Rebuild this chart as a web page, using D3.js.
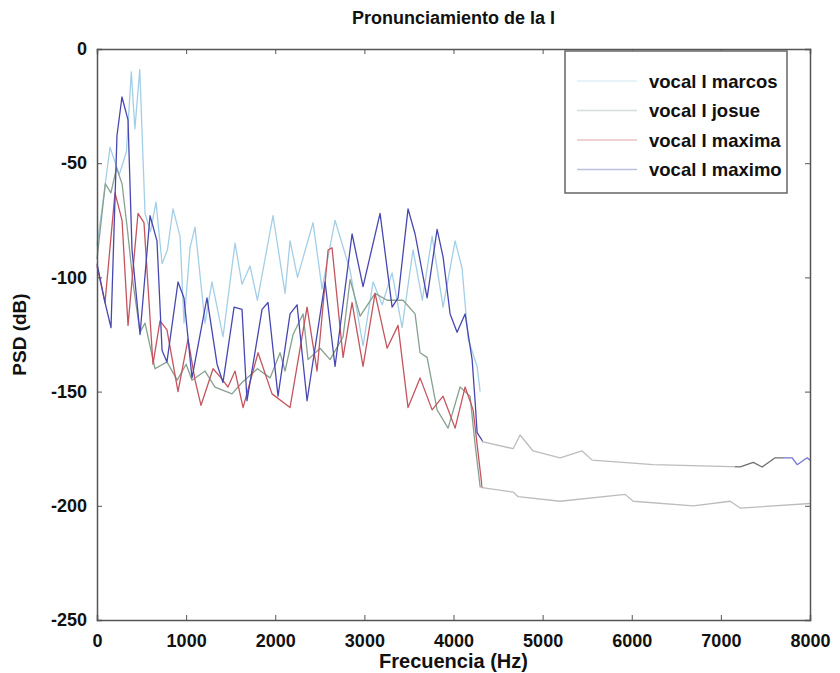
<!doctype html>
<html>
<head>
<meta charset="utf-8">
<script src="https://d3js.org/d3.v7.min.js"></script>
<style>
  body { margin: 0; background: #fff; }
  svg text { font-family: "Liberation Sans", Arial, sans-serif; font-weight: bold; fill: #111; }
</style>
</head>
<body>
<div id="chart"></div>
<script>
// data (Hz, dB)
var seriesNames = ["vocal I marcos", "vocal I josue", "vocal I maxima", "vocal I maximo"];
var seriesColors = ["#a3cfe6", "#86a190", "#c4545e", "#4747b2"];

var marcosFreq = [0, 56, 146, 250, 330, 385, 425, 480, 539, 600, 662, 730, 790, 853, 932, 976, 1044, 1100, 1212, 1290, 1414, 1549, 1627, 1717, 1800, 1975, 2110, 2166, 2250, 2424, 2525, 2671, 2840, 2985, 3098, 3200, 3311, 3423, 3546, 3650, 3760, 3883, 4018, 4096, 4164, 4265, 4299];
var marcosPsd = [-86, -70, -43, -55, -45, -10, -35, -9, -72, -80, -67, -94, -88, -70, -82, -120, -87, -78, -120, -102, -126, -85, -103, -95, -110, -73, -107, -84, -100, -76, -105, -75, -97, -130, -102, -112, -98, -122, -88, -110, -82, -113, -84, -96, -127, -139, -150];

var josueFreq = [0, 62, 94, 156, 219, 281, 344, 406, 483, 539, 651, 785, 900, 1000, 1066, 1212, 1324, 1515, 1627, 1800, 1942, 2054, 2110, 2200, 2312, 2368, 2503, 2615, 2761, 2840, 2952, 3120, 3255, 3434, 3569, 3625, 3704, 3816, 3939, 4074, 4186, 4242, 4300];
var josuePsd = [-92, -70, -59, -63, -52, -59, -80, -103, -124, -120, -140, -137, -145, -138, -145, -141, -148, -151, -146, -140, -144, -133, -141, -125, -116, -136, -131, -136, -126, -101, -117, -107, -110, -110, -116, -133, -135, -158, -166, -148, -152, -173, -192];

var maximaFreq = [0, 90, 202, 281, 348, 460, 527, 628, 707, 785, 909, 1021, 1100, 1167, 1302, 1392, 1470, 1549, 1639, 1807, 1964, 2166, 2357, 2469, 2593, 2637, 2761, 2862, 2985, 3120, 3255, 3378, 3490, 3625, 3760, 3883, 4018, 4130, 4220, 4321, 4669, 4725, 5196, 5926, 6016, 6689, 7104, 7217, 8000];
var maximaPsd = [-95, -111, -63, -75, -121, -72, -76, -138, -119, -123, -150, -127, -145, -156, -140, -144, -148, -141, -157, -133, -151, -157, -113, -141, -88, -87, -135, -111, -139, -107, -131, -121, -157, -144, -158, -152, -166, -148, -158, -192, -194, -196, -198, -195, -198, -200, -198, -201, -199];

var maximoFreq = [0, 90, 157, 224, 280, 348, 393, 483, 595, 673, 730, 785, 909, 976, 1066, 1234, 1347, 1414, 1538, 1627, 1683, 1852, 1919, 2031, 2166, 2245, 2357, 2559, 2671, 2862, 2985, 3176, 3311, 3378, 3490, 3569, 3704, 3816, 3883, 3962, 4040, 4130, 4209, 4242, 4265, 4332, 4669, 4747, 4893, 5196, 5443, 5556, 6240, 7217, 7363, 7463, 7609, 7800, 7856, 7968, 8000];
var maximoPsd = [-94, -111, -122, -38, -21, -31, -88, -125, -73, -84, -132, -137, -102, -109, -144, -109, -138, -146, -113, -114, -154, -114, -111, -152, -116, -112, -154, -102, -139, -81, -104, -72, -113, -109, -70, -81, -109, -79, -91, -116, -124, -116, -136, -154, -168, -172, -175, -169, -176, -179, -176, -180, -182, -183, -181, -183, -179, -179, -182, -179, -180];

var xTicks = [0, 1000, 2000, 3000, 4000, 5000, 6000, 7000, 8000];
var yTicks = [0, -50, -100, -150, -200, -250];

var W = 840, H = 673;
var plotLeft = 97, plotRight = 810, plotTop = 49, plotBottom = 620;

var svg = d3.select("#chart").append("svg")
    .attr("width", W)
    .attr("height", H);

var x = d3.scaleLinear().domain([0, 8000]).range([plotLeft, plotRight]);
var y = d3.scaleLinear().domain([-250, 0]).range([plotBottom, plotTop]);

var freqs = [marcosFreq, josueFreq, maximaFreq, maximoFreq];
var psds = [marcosPsd, josuePsd, maximaPsd, maximoPsd];

// the scan fades everything past ~4300 Hz to light grey
var tailGrey = "#bcbcbc";
var defs = svg.append("defs");
seriesColors.forEach(function (c, i) {
    var g = defs.append("linearGradient")
        .attr("id", "fade" + i)
        .attr("gradientUnits", "userSpaceOnUse")
        .attr("x1", x(0)).attr("x2", x(8000))
        .attr("y1", 0).attr("y2", 0);
    g.append("stop").attr("offset", 4320 / 8000).attr("stop-color", c);
    g.append("stop").attr("offset", 4330 / 8000).attr("stop-color", tailGrey);
    g.append("stop").attr("offset", 7150 / 8000).attr("stop-color", tailGrey);
    g.append("stop").attr("offset", 7160 / 8000).attr("stop-color", i == 3 ? "#707070" : tailGrey);
    g.append("stop").attr("offset", 7700 / 8000).attr("stop-color", i == 3 ? "#707070" : tailGrey);
    g.append("stop").attr("offset", 7720 / 8000).attr("stop-color", i == 3 ? "#7373d0" : tailGrey);
});

var line = d3.line()
    .x(function (d) { return x(d[0]); })
    .y(function (d) { return y(d[1]); });

freqs.forEach(function (f, i) {
    var pts = f.map(function (v, j) { return [v, psds[i][j]]; });
    svg.append("path")
        .datum(pts)
        .attr("fill", "none")
        .attr("stroke", "url(#fade" + i + ")")
        .attr("stroke-width", 1.3)
        .attr("stroke-linejoin", "round")
        .attr("d", line);
});

// axes, matlab style: ticks inside, on all four sides
var axisColor = "#555";
var hyphen = function (d) { return String(d); };
svg.append("g")
    .attr("transform", "translate(0," + plotBottom + ")")
    .call(d3.axisBottom(x).tickValues(xTicks).tickSize(-5).tickPadding(10).tickFormat(hyphen))
    .call(function (g) {
        g.select(".domain").attr("stroke", axisColor).attr("stroke-width", 1.5);
        g.selectAll(".tick line").attr("stroke", axisColor);
        g.selectAll("text").attr("font-size", 18).attr("dy", "0.95em");
    });
svg.append("g")
    .attr("transform", "translate(0," + plotTop + ")")
    .call(d3.axisTop(x).tickValues(xTicks).tickSize(-5).tickFormat(""))
    .call(function (g) {
        g.select(".domain").attr("stroke", axisColor).attr("stroke-width", 1.5);
        g.selectAll(".tick line").attr("stroke", axisColor);
    });
svg.append("g")
    .attr("transform", "translate(" + plotLeft + ",0)")
    .call(d3.axisLeft(y).tickValues(yTicks).tickSize(-5).tickPadding(10).tickFormat(hyphen))
    .call(function (g) {
        g.select(".domain").attr("stroke", axisColor).attr("stroke-width", 1.5);
        g.selectAll(".tick line").attr("stroke", axisColor);
        g.selectAll("text").attr("font-size", 18);
    });
svg.append("g")
    .attr("transform", "translate(" + plotRight + ",0)")
    .call(d3.axisRight(y).tickValues(yTicks).tickSize(-5).tickFormat(""))
    .call(function (g) {
        g.select(".domain").attr("stroke", axisColor).attr("stroke-width", 1.5);
        g.selectAll(".tick line").attr("stroke", axisColor);
    });

// titles
svg.append("text")
    .attr("x", (plotLeft + plotRight) / 2)
    .attr("y", 24)
    .attr("text-anchor", "middle")
    .attr("font-size", 18)
    .text("Pronunciamiento de la I");

svg.append("text")
    .attr("x", (plotLeft + plotRight) / 2)
    .attr("y", 668)
    .attr("text-anchor", "middle")
    .attr("font-size", 20)
    .text("Frecuencia (Hz)");

svg.append("text")
    .attr("text-anchor", "middle")
    .attr("transform", "translate(26," + ((plotTop + plotBottom) / 2) + ")rotate(-90)")
    .attr("font-size", 19)
    .text("PSD (dB)");

// legend
var lg = svg.append("g").attr("transform", "translate(565,51)");
lg.append("rect")
    .attr("width", 222).attr("height", 142)
    .attr("fill", "#fff")
    .attr("stroke", "#666").attr("stroke-width", 1.5);
seriesNames.forEach(function (name, i) {
    var yy = 30 + i * 29.5;
    lg.append("line")
        .attr("x1", 12).attr("x2", 72)
        .attr("y1", yy).attr("y2", yy)
        .attr("stroke", seriesColors[i])
        .attr("stroke-opacity", 0.35)
        .attr("stroke-width", 1.3);
    lg.append("text")
        .attr("x", 84).attr("y", yy)
        .attr("dy", "0.36em")
        .attr("font-size", 18.5)
        .text(name);
});
</script>
</body>
</html>
